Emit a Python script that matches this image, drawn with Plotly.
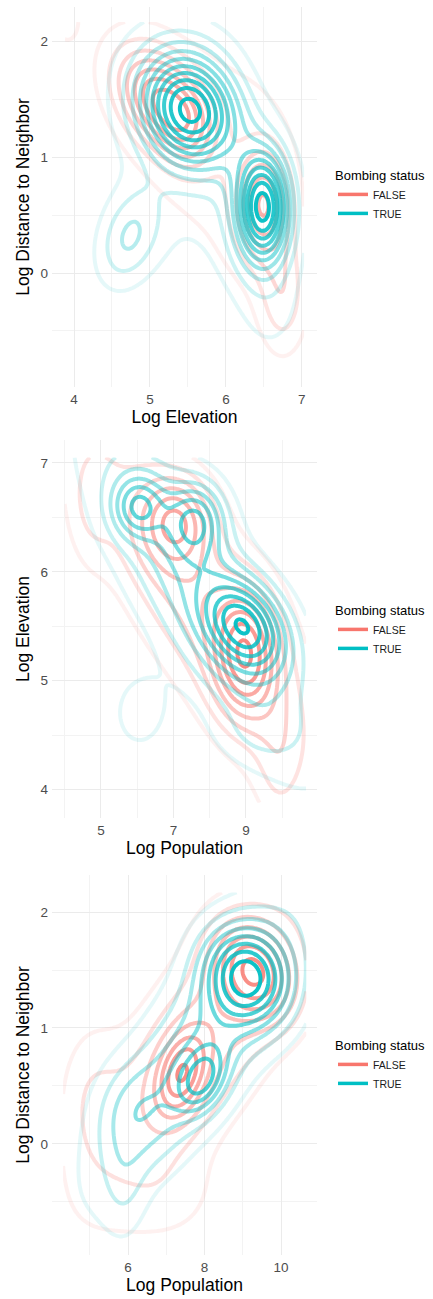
import numpy as np
import plotly.graph_objects as go

FALSE_RGB = (248, 118, 109)
TRUE_RGB = (0, 191, 196)
FONT = "Liberation Sans, Arial, Helvetica, sans-serif"

# ---------------- Panel 1: Log Elevation (x) vs Log Distance to Neighbor (y)
p1_xrange = [3.71, 7.20]
p1_yrange = [-0.985, 2.30]
p1_data_x = [3.88, 7.03]
p1_data_y = [-0.84, 2.17]
p1_xticks = [4, 5, 6, 7]
p1_xminor = [4.5, 5.5, 6.5]
p1_yticks = [0, 1, 2]
p1_yminor = [-0.5, 0.5, 1.5]
p1_levels = [0.8, 1.6, 2.4, 3.2, 4.0, 4.8, 5.6, 6.4, 7.2, 8.0]
# density modes: (x centre, y centre, x spread, y spread, tilt, height)
p1_false = [(5.16, 1.48, 0.42, 0.32, -0.40, 4.9),
            (5.50, 1.30, 0.25, 0.25, 0.00, 1.3),
            (6.50, 0.60, 0.25, 0.33, 0.00, 4.2),
            (6.75, -0.20, 0.22, 0.35, 0.00, 1.8),
            (5.70, 0.90, 0.90, 0.90, -0.60, 1.0),
            (6.40, 1.50, 0.45, 0.35, -0.50, 0.6),
            (3.90, 2.20, 0.12, 0.15, 0.00, 1.3)]
p1_true = [(5.53, 1.41, 0.45, 0.33, -0.15, 7.5),
           (6.49, 0.57, 0.25, 0.34, 0.00, 7.7),
           (4.72, 0.30, 0.30, 0.30, 0.30, 2.3),
           (5.70, 0.80, 0.90, 0.90, -0.50, 1.0),
           (6.60, -0.30, 0.30, 0.35, 0.00, 0.6),
           (5.50, 1.95, 0.50, 0.25, 0.00, 0.5)]

# ---------------- Panel 2: Log Population (x) vs Log Elevation (y)
p2_xrange = [3.65, 10.96]
p2_yrange = [3.74, 7.21]
p2_data_x = [4.00, 10.66]
p2_data_y = [3.88, 7.05]
p2_xticks = [5, 7, 9]
p2_xminor = [4, 6, 8, 10]
p2_yticks = [4, 5, 6, 7]
p2_yminor = [4.5, 5.5, 6.5]
p2_levels = [0.7, 1.4, 2.1, 2.8, 3.5, 4.2, 4.9, 5.6, 6.3]
p2_false = [(7.10, 6.48, 0.65, 0.28, 0.0, 2.7),
            (9.00, 5.25, 0.60, 0.40, 0.0, 3.6),
            (7.80, 5.70, 2.30, 1.10, -0.8, 2.5),
            (9.90, 4.20, 0.45, 0.40, 0.0, 0.9),
            (4.70, 6.60, 0.45, 0.40, 0.0, 0.8)]
p2_true = [(6.02, 6.60, 0.50, 0.20, 0.0, 2.6),
           (7.65, 6.48, 0.55, 0.25, 0.0, 2.8),
           (9.00, 5.50, 0.80, 0.30, -0.3, 4.2),
           (7.80, 5.80, 2.20, 1.10, -0.8, 2.6),
           (6.05, 4.70, 0.60, 0.28, 0.0, 1.0),
           (9.30, 4.50, 0.90, 0.20, 0.0, 0.5)]

# ---------------- Panel 3: Log Population (x) vs Log Distance to Neighbor (y)
p3_xrange = [4.01, 10.94]
p3_yrange = [-0.96, 2.32]
p3_data_x = [4.30, 10.66]
p3_data_y = [-0.84, 2.17]
p3_xticks = [6, 8, 10]
p3_xminor = [5, 7, 9]
p3_yticks = [0, 1, 2]
p3_yminor = [-0.5, 0.5, 1.5]
p3_levels = [0.7, 1.4, 2.1, 2.8, 3.5, 4.2, 4.9, 5.6]
p3_false = [(9.30, 1.50, 0.75, 0.30, -0.3, 3.3),
            (7.40, 0.60, 0.45, 0.25, 0.3, 2.7),
            (7.90, 0.85, 2.10, 0.95, 0.75, 2.4),
            (5.00, 0.45, 0.60, 0.45, 0.0, 0.9),
            (7.20, -0.50, 1.00, 0.30, 0.0, 0.6)]
p3_true = [(9.10, 1.45, 0.80, 0.30, -0.2, 4.0),
           (7.95, 0.55, 0.45, 0.20, 0.3, 2.6),
           (8.00, 0.90, 2.00, 0.90, 0.8, 2.6),
           (6.10, 0.30, 0.70, 0.30, 0.0, 1.0),
           (5.90, -0.40, 0.40, 0.35, 0.0, 0.7)]

groups = ["FALSE", "TRUE"]


def density(comps, xr, yr, n=100):
    gx = np.linspace(xr[0], xr[1], n)
    gy = np.linspace(yr[0], yr[1], n)
    X, Y = np.meshgrid(gx, gy)
    Z = np.zeros_like(X)
    for mx, my, sx, sy, r, h in comps:
        dx = (X - mx) / sx
        dy = (Y - my) / sy
        q = (dx * dx - 2 * r * dx * dy + dy * dy) / (1 - r * r)
        Z += h * np.exp(-0.5 * q)
    return gx, gy, Z


fig = go.Figure()

panels = [
    dict(xr=p1_xrange, yr=p1_yrange, dx=p1_data_x, dy=p1_data_y, xt=p1_xticks, xm=p1_xminor,
         yt=p1_yticks, ym=p1_yminor, lev=p1_levels, comps=[p1_false, p1_true],
         xtitle="Log Elevation", ytitle="Log Distance to Neighbor", top=7, bottom=387),
    dict(xr=p2_xrange, yr=p2_yrange, dx=p2_data_x, dy=p2_data_y, xt=p2_xticks, xm=p2_xminor,
         yt=p2_yticks, ym=p2_yminor, lev=p2_levels, comps=[p2_false, p2_true],
         xtitle="Log Population", ytitle="Log Elevation", top=440, bottom=818),
    dict(xr=p3_xrange, yr=p3_yrange, dx=p3_data_x, dy=p3_data_y, xt=p3_xticks, xm=p3_xminor,
         yt=p3_yticks, ym=p3_yminor, lev=p3_levels, comps=[p3_false, p3_true],
         xtitle="Log Population", ytitle="Log Distance to Neighbor", top=875, bottom=1255),
]

W, H = 433, 1299
legend_tops = [163, 598, 1033]
layout = {}
for i, p in enumerate(panels):
    k = "" if i == 0 else str(i + 1)
    xa, ya = "x" + k, "y" + k
    lev = p["lev"]
    lmin, lmax = min(lev), max(lev)
    for g, rgb, comps in zip(groups, [FALSE_RGB, TRUE_RGB], p["comps"]):
        gx, gy, Z = density(comps, p["dx"], p["dy"])
        for L in lev:
            if Z.max() <= L:
                continue
            a = 0.1 + 0.85 * (L - lmin) / (lmax - lmin)
            fig.add_trace(go.Contour(
                x=gx, y=gy, z=Z, xaxis=xa, yaxis=ya,
                contours=dict(start=L, end=L + 1e-6, size=1, coloring="none"),
                line=dict(color="rgba(%d,%d,%d,%.3f)" % (rgb + (a,)), width=4, smoothing=1.0),
                showscale=False, showlegend=False, hoverinfo="skip"))
        fig.add_trace(go.Scatter(
            x=[None], y=[None], mode="lines", name=g, xaxis=xa, yaxis=ya,
            line=dict(color="rgb(%d,%d,%d)" % rgb, width=3.5),
            legend="legend" + k, showlegend=True))
    axis_common = dict(showline=False, zeroline=False, ticks="", showgrid=True,
                       gridcolor="#EBEBEB", gridwidth=1,
                       tickfont=dict(family=FONT, size=13.5, color="#4D4D4D"))
    layout["xaxis" + k] = dict(
        domain=[52 / W, 317 / W], anchor=ya, range=p["xr"], tickvals=p["xt"],
        minor=dict(tickvals=p["xm"], showgrid=True, gridcolor="#F3F3F3", gridwidth=0.6, ticks=""),
        title=dict(text=p["xtitle"], font=dict(family=FONT, size=17.5, color="black"), standoff=2),
        ticklabelstandoff=2, **axis_common)
    layout["yaxis" + k] = dict(
        domain=[1 - p["bottom"] / H, 1 - p["top"] / H], anchor=xa, range=p["yr"], tickvals=p["yt"],
        minor=dict(tickvals=p["ym"], showgrid=True, gridcolor="#F3F3F3", gridwidth=0.6, ticks=""),
        title=dict(text=p["ytitle"], font=dict(family=FONT, size=17.5, color="black"), standoff=6),
        ticklabelstandoff=3, **axis_common)
    layout["legend" + k] = dict(
        x=333 / W, y=1 - legend_tops[i] / H, xanchor="left", yanchor="top",
        title=dict(text="Bombing status", font=dict(family=FONT, size=13, color="black")),
        font=dict(family=FONT, size=10.5, color="#1A1A1A"), bgcolor="rgba(0,0,0,0)",
        itemwidth=30, tracegroupgap=0)

fig.update_layout(width=W, height=H, margin=dict(l=0, r=0, t=0, b=0),
                  plot_bgcolor="white", paper_bgcolor="white", **layout)
fig.write_html("out.html", config={"displayModeBar": False},
               post_script="document.body.style.margin='0px';")
